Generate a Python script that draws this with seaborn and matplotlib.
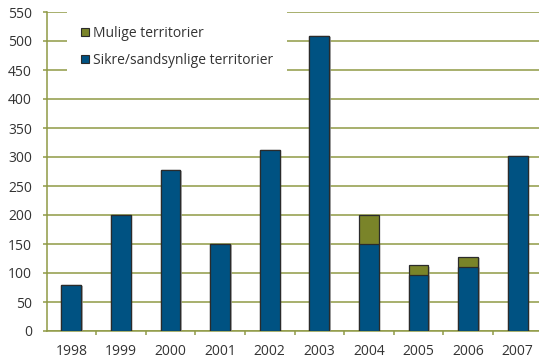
import matplotlib
matplotlib.use("Agg")
import matplotlib.pyplot as plt
import matplotlib.patheffects as pe
from matplotlib.patches import Patch
from matplotlib.ticker import FixedLocator
import seaborn as sns
import pandas as pd

years = ["1998", "1999", "2000", "2001", "2002", "2003", "2004", "2005", "2006", "2007"]
sikre = [80, 200, 278, 150, 312, 508, 150, 97, 111, 302]
mulige = [0, 0, 0, 0, 0, 0, 50, 16, 16, 0]
y_ticks = [0, 50, 100, 150, 200, 250, 300, 350, 400, 450, 500, 550]

df = pd.DataFrame({"year": years, "sikre": sikre, "mulige": mulige})
df["total"] = df["sikre"] + df["mulige"]

BLUE = "#005282"
GREEN = "#7a8429"
GRID = "#8f9a45"
TEXT = "#333333"

sns.set_theme(style="white")
plt.rcParams["font.family"] = ["Open Sans", "DejaVu Sans"]

fig = plt.figure(figsize=(5.39, 3.59), dpi=100)
ax = fig.add_axes([46.5 / 539, 28 / 359, 496 / 539, 319 / 359])

shadow = [pe.SimplePatchShadow(offset=(1.2, -0.8), shadow_rgbFace="#9a9a9a", alpha=0.5), pe.Normal()]

sns.barplot(data=df, x="year", y="total", color=GREEN, saturation=1, width=0.4,
            edgecolor="#2b2b2b", linewidth=0.9, ax=ax, zorder=3)
sns.barplot(data=df, x="year", y="sikre", color=BLUE, saturation=1, width=0.4,
            edgecolor="#2b2b2b", linewidth=0.9, ax=ax, zorder=4)
for p in ax.patches:
    p.set_path_effects(shadow)

ax.set_xlim(-0.5, len(years) - 0.5)
ax.set_ylim(0, 550)
ax.set_yticks(y_ticks)
ax.set_xlabel("")
ax.set_ylabel("")

ax.yaxis.grid(True, color=GRID, linewidth=1.1)
ax.set_axisbelow(True)
for side in ["top", "right"]:
    ax.spines[side].set_visible(False)
for side in ["left", "bottom"]:
    ax.spines[side].set_color(GRID)
    ax.spines[side].set_linewidth(1.1)

ax.tick_params(axis="y", which="major", left=True, length=3, width=1.1, color=GRID,
               pad=7.5, labelsize=10, labelcolor=TEXT)
ax.tick_params(axis="x", which="major", bottom=False, length=0, pad=9.5,
               labelsize=10, labelcolor=TEXT)
ax.xaxis.set_minor_locator(FixedLocator([i + 0.5 for i in range(len(years) - 1)]))
ax.tick_params(axis="x", which="minor", bottom=True, length=3, width=1.1, color=GRID)

handles = [
    Patch(facecolor=GREEN, edgecolor="#2b2b2b", linewidth=0.8, label="Mulige territorier"),
    Patch(facecolor=BLUE, edgecolor="#2b2b2b", linewidth=0.8, label="Sikre/sandsynlige territorier"),
]
leg = ax.legend(handles=handles, loc="upper left",
                bbox_to_anchor=(67 / 539, 1 - 12 / 359), bbox_transform=fig.transFigure,
                frameon=True, facecolor="white", edgecolor="none", framealpha=1,
                fancybox=False, fontsize=10, handlelength=0.55, handleheight=0.55,
                handletextpad=0.35, labelspacing=0.85, borderpad=1.0,
                borderaxespad=0)
for t in leg.get_texts():
    t.set_color(TEXT)
leg.set_zorder(5)

fig.savefig("out.png", dpi=100)
